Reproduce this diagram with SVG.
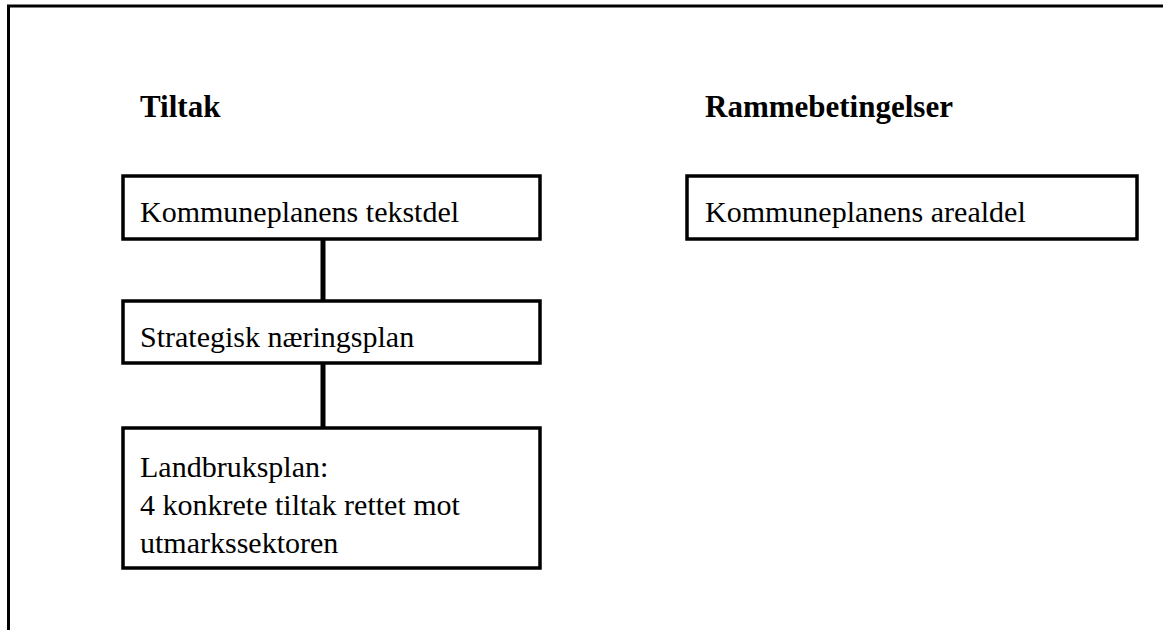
<svg xmlns="http://www.w3.org/2000/svg" width="1163" height="630" viewBox="0 0 1163 630">
<style>
.box{fill:#fff;stroke:#000;stroke-width:3.5}
.lbl{font-family:'Liberation Serif',serif;font-size:30px;fill:#000}
.hdr{font-family:'Liberation Serif',serif;font-size:31px;font-weight:bold;fill:#000}
.c{stroke:#000;stroke-width:5;fill:none}
.frame{stroke:#000;stroke-width:3;fill:none}
</style>
<rect width="1163" height="630" fill="#fff"/>
<path class="frame" d="M8.5 630 V6 H1163"/>
<text class="hdr" x="140" y="117">Tiltak</text>
<text class="hdr" x="705" y="117">Rammebetingelser</text>
<g id="connectors">
<line class="c" x1="323" y1="239" x2="323" y2="301"/>
<line class="c" x1="323" y1="363" x2="323" y2="427"/>
</g>
<g id="n1"><rect class="box" x="123" y="176" width="417" height="63"/><text class="lbl" x="140" y="222">Kommuneplanens tekstdel</text></g>
<g id="n2"><rect class="box" x="123" y="301" width="417" height="62"/><text class="lbl" x="140" y="347">Strategisk næringsplan</text></g>
<g id="n3"><rect class="box" x="123" y="428" width="417" height="140"/><text class="lbl" x="140" y="477">Landbruksplan:</text><text class="lbl" x="140" y="515">4 konkrete tiltak rettet mot</text><text class="lbl" x="140" y="553">utmarkssektoren</text></g>
<g id="n4"><rect class="box" x="687" y="176" width="450" height="63"/><text class="lbl" x="705" y="222">Kommuneplanens arealdel</text></g>
</svg>
